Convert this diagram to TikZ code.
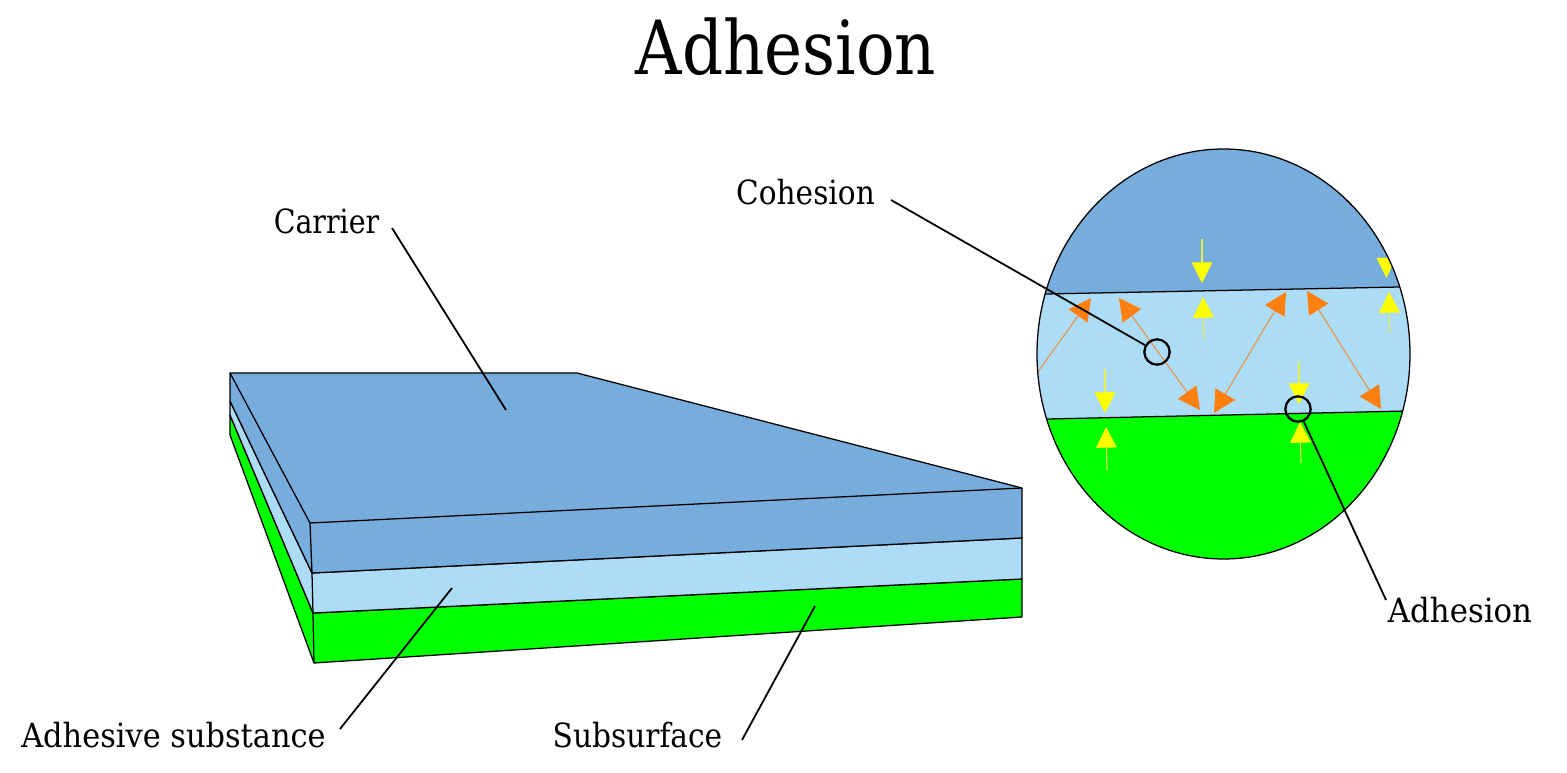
\documentclass[tikz,border=0pt]{standalone}
\usepackage{fontspec}
\setmainfont{DejaVu Serif}[FakeStretch=0.88]
\usetikzlibrary{arrows.meta}
\definecolor{carrierblue}{HTML}{76ADDD}
\definecolor{gluelight}{HTML}{ADDCF7}
\definecolor{basegreen}{HTML}{00FF00}
\definecolor{forceyellow}{HTML}{FFFF00}
\definecolor{forceorange}{HTML}{FF7F0F}
\definecolor{shaftorange}{HTML}{E8954E}
\definecolor{shaftyellow}{HTML}{E6EE55}
\tikzset{
  x=0.75pt,y=-0.75pt,
  outline/.style={draw=black,line width=0.95pt,line join=round},
  leader/.style={draw=black,line width=1.35pt},
  marker/.style={draw=black,line width=1.7pt,circle,minimum size=19pt,inner sep=0pt},
  label/.style={font=\fontsize{25}{28}\selectfont,inner sep=0pt,text=black},
  cohesionforce/.style={draw=shaftorange,line width=0.85pt,
    {Triangle[length=16.5pt,width=17pt,color=forceorange]}-{Triangle[length=16.5pt,width=17pt,color=forceorange]}},
  cohesionend/.style={draw=shaftorange,line width=0.85pt,
    -{Triangle[length=16.5pt,width=17pt,color=forceorange]}},
  adhesionforce/.style={draw=shaftyellow,line width=0.85pt,
    -{Triangle[length=15.5pt,width=15.5pt,color=forceyellow]}},
}
\begin{document}
\begin{tikzpicture}
\useasboundingbox (0,0) rectangle (1567,773);

% Layered block: lowest layer first
\filldraw[outline,fill=basegreen] (230,415) -- (313,613) -- (1022,579) -- (1022,617) -- (314,663) -- (230,435) -- cycle;
\draw[outline] (313,613) -- (314,663);
\filldraw[outline,fill=gluelight] (230,401) -- (312,573) -- (1022,538) -- (1022,579) -- (313,613) -- (230,415) -- cycle;
\draw[outline] (312,573) -- (313,613);
\filldraw[outline,fill=carrierblue] (230,373) -- (577,373) -- (1022,488) -- (1022,538) -- (312,573) -- (230,401) -- cycle;
\draw[outline] (230,373) -- (310,523) -- (1022,488);
\draw[outline] (310,523) -- (312,573);

% Magnified cross-section inside an ellipse
\begin{scope}
  \clip (1223.5,354) ellipse [x radius=186.5,y radius=205];
  \fill[carrierblue] (1030,140) rectangle (1420,295);
  \fill[gluelight] (1030,294.3) -- (1420,286.6) -- (1420,411) -- (1030,419.4) -- cycle;
  \fill[basegreen] (1030,419.4) -- (1420,410.7) -- (1420,570) -- (1030,570) -- cycle;
  \draw[outline] (1030,294.3) -- (1420,286.6);
  \draw[outline] (1030,419.4) -- (1420,410.7);

  % Cohesive forces within the adhesive layer
  \coordinate (oa) at (1037,373);  \coordinate (ob) at (1091,298);
  \coordinate (oc) at (1119,298);  \coordinate (od) at (1200,410);
  \coordinate (oe) at (1214,413);  \coordinate (of) at (1286,292);
  \coordinate (og) at (1307,291);  \coordinate (oh) at (1381,409);
  \draw[cohesionend] (oa) -- (ob);
  \draw[cohesionforce] (oc) -- (od);
  \draw[cohesionforce] (oe) -- (of);
  \draw[cohesionforce] (og) -- (oh);

  % Adhesive forces across each interface
  \draw[adhesionforce] (1202,239) -- (1202,283);
  \draw[adhesionforce] (1204,339) -- (1203,297);
  \draw[adhesionforce] (1105,369) -- (1105,413);
  \draw[adhesionforce] (1107,470) -- (1106,427);
  \draw[adhesionforce] (1299,362) -- (1299,404);
  \draw[adhesionforce] (1301,463) -- (1300,422);
  \draw[adhesionforce] (1390,333) -- (1389,292);
  \fill[forceyellow] (1376.5,258) -- (1395.5,258) -- (1386.5,278) -- cycle;
\end{scope}
\draw[outline] (1223.5,354) ellipse [x radius=186.5,y radius=205];

% Titles and callouts
\node[font=\fontsize{56}{62}\selectfont,inner sep=0pt,xscale=0.977] (title) at (786,47) {Adhesion};
\node[label,xscale=0.97] (carrier) at (326.5,221) {Carrier};
\node[label,xscale=1.01] (cohesion) at (805.5,192) {Cohesion};
\node[label,xscale=1.037] (glue) at (173.5,735) {Adhesive substance};
\node[label,xscale=1.01] (subsurface) at (637.5,735) {Subsurface};
\node[label,xscale=1.05] (adhesion) at (1460,610) {Adhesion};

\node[marker] (cohring) at (1157,352) {};
\node[marker] (adhring) at (1298,409) {};

\coordinate (carrierfrom) at (392,228);  \coordinate (carrierto) at (506,410);
\coordinate (gluefrom) at (340,729);     \coordinate (glueto) at (452,588);
\coordinate (subfrom) at (742,740);      \coordinate (subto) at (815,606);
\coordinate (cohfrom) at (891,200);      \coordinate (adhfrom) at (1386,600);
\draw[leader] (carrierfrom) -- (carrierto);
\draw[leader] (gluefrom) -- (glueto);
\draw[leader] (subfrom) -- (subto);
\draw[leader] (cohfrom) -- (cohring);
\draw[leader] (adhfrom) -- (adhring);
\end{tikzpicture}
\end{document}
